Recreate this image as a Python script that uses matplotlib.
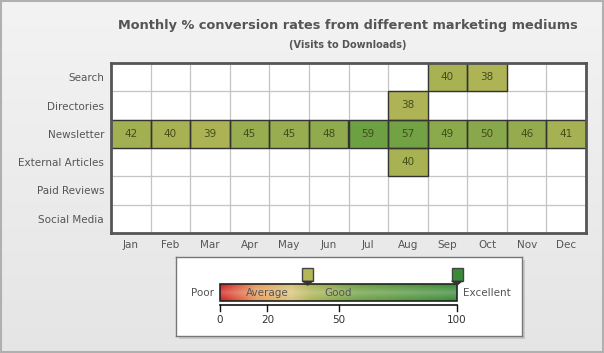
import numpy as np
import matplotlib
matplotlib.use("Agg")
import matplotlib.pyplot as plt
from matplotlib.colors import LinearSegmentedColormap, Normalize
from matplotlib.patches import Rectangle, Polygon

plt.rcParams['font.family'] = ['DejaVu Sans']

# ---------------- data ----------------
rows = ['Search', 'Directories', 'Newsletter', 'External Articles', 'Paid Reviews', 'Social Media']
months = ['Jan', 'Feb', 'Mar', 'Apr', 'May', 'Jun', 'Jul', 'Aug', 'Sep', 'Oct', 'Nov', 'Dec']
nan = np.nan
search = [nan, nan, nan, nan, nan, nan, nan, nan, 40, 38, nan, nan]
directories = [nan, nan, nan, nan, nan, nan, nan, 38, nan, nan, nan, nan]
newsletter = [42, 40, 39, 45, 45, 48, 59, 57, 49, 50, 46, 41]
external_articles = [nan, nan, nan, nan, nan, nan, nan, 40, nan, nan, nan, nan]
paid_reviews = [nan] * 12
social_media = [nan] * 12

scale_labels = ['Poor', 'Average', 'Good', 'Excellent']
scale_values = [0, 20, 50, 100]
scale_ticks = [0, 20, 50, 100]
slider_values = [37, 100]

title = 'Monthly % conversion rates from different marketing mediums'
subtitle = '(Visits to Downloads)'

# ---------------- style ----------------
W, H = 604, 353
cmap = LinearSegmentedColormap.from_list('conv', [
    (0.00, '#d21f1f'),
    (0.15, '#e89a5a'),
    (0.30, '#d8c47a'),
    (0.38, '#aeb455'),
    (0.59, '#6ca043'),
    (1.00, '#3a8a38'),
])
norm = Normalize(0, 100)
txt = '#555555'
fs = 7.5

fig = plt.figure(figsize=(W / 100, H / 100), dpi=100)

# background gradient
bg = fig.add_axes([0, 0, 1, 1], zorder=-10)
grad = np.linspace(0, 1, 256).reshape(-1, 1)
bg_cmap = LinearSegmentedColormap.from_list('bg', ['#f3f3f3', '#e5e5e5'])
bg.imshow(grad, aspect='auto', cmap=bg_cmap, extent=(0, 1, 0, 1), origin='upper')
bg.add_patch(Rectangle((0.001, 0.002), 0.997, 0.995, fill=False, edgecolor='#b0b0b0', lw=1.5, transform=bg.transAxes))
bg.set_xlim(0, 1); bg.set_ylim(0, 1)
bg.axis('off')

def px(x0, y0, x1, y1):
    return [x0 / W, 1 - y1 / H, (x1 - x0) / W, (y1 - y0) / H]

# ---------------- heatmap ----------------
ax = fig.add_axes(px(111, 63, 586, 233))
data = np.ma.masked_invalid(np.array([search, directories, newsletter, external_articles, paid_reviews, social_media], dtype=float))
ax.set_facecolor('white')
for i in range(1, len(months)):
    ax.axvline(i, color='#c4c4c4', lw=0.9, zorder=1)
for j in range(1, len(rows)):
    ax.axhline(j, color='#c4c4c4', lw=0.9, zorder=1)
ax.pcolormesh(np.arange(len(months) + 1), np.arange(len(rows) + 1), data, cmap=cmap, norm=norm,
              edgecolors='none', zorder=2)
for r in range(len(rows)):
    for c in range(len(months)):
        v = data[r, c]
        if v is not np.ma.masked:
            ax.add_patch(Rectangle((c, r), 1, 1, fill=False, edgecolor='#333333', lw=1.0, zorder=2.5))
            ax.text(c + 0.5, r + 0.5, f'{int(v)}', ha='center', va='center', fontsize=fs, color='#434d1c', zorder=3)
ax.set_xlim(0, len(months))
ax.set_ylim(len(rows), 0)
ax.set_xticks(np.arange(len(months)) + 0.5)
ax.set_xticklabels(months)
ax.set_yticks(np.arange(len(rows)) + 0.5)
ax.set_yticklabels(rows)
ax.tick_params(length=0, labelsize=fs, colors=txt, pad=5)
for s in ax.spines.values():
    s.set_color('#555555'); s.set_linewidth(2)
    s.set_zorder(4)

fig.text(348 / W, 1 - 25 / H, title, ha='center', va='center', fontsize=9.25, fontweight='bold', color=txt)
fig.text(348 / W, 1 - 45 / H, subtitle, ha='center', va='center', fontsize=7.0, fontweight='bold', color=txt)

# ---------------- legend ----------------
sh = fig.add_axes(px(179, 260, 525, 339), zorder=1)
sh.set_facecolor('#c8c8c8')
sh.set_xticks([]); sh.set_yticks([])
for s in sh.spines.values():
    s.set_visible(False)

lx0, lx1 = 176, 522
bx0, bx1 = 220, 457
k = (bx1 - bx0) / 100.0
lg = fig.add_axes(px(lx0, 257, lx1, 336), zorder=2)
lg.set_facecolor('white')
lg.set_xticks([]); lg.set_yticks([])
for s in lg.spines.values():
    s.set_color('#777777'); s.set_linewidth(1)

gx = np.linspace(0, 100, 400).reshape(1, -1)
lg.imshow(gx, aspect='auto', cmap=cmap, norm=norm, extent=(0, 100, 35, 52), zorder=2)
gl = np.concatenate([np.linspace(0.0, 0.25, 20), np.linspace(0.25, 0.0, 20)]).reshape(-1, 1)
gloss = np.zeros((40, 1, 4)); gloss[..., :3] = 1.0; gloss[..., 3] = gl
lg.imshow(gloss, aspect='auto', extent=(0, 100, 35, 52), zorder=3)
lg.add_patch(Rectangle((0, 35), 100, 17, fill=False, edgecolor='#222222', lw=1.2, zorder=4))
lg.set_xlim((lx0 - bx0) / k, (lx1 - bx0) / k)
lg.set_ylim(0, 79)

lg.text(-2.5, 43.5, scale_labels[0], ha='right', va='center', fontsize=fs, color=txt)
lg.text(102.5, 43.5, scale_labels[-1], ha='left', va='center', fontsize=fs, color=txt)
for lab, v in zip(scale_labels[1:-1], scale_values[1:-1]):
    lg.text(v, 43.5, lab, ha='center', va='center', fontsize=fs, color=txt, zorder=5)

lg.plot([0, 100], [31, 31], color='#111111', lw=1.2)
for t in scale_ticks:
    lg.plot([t, t], [31, 25], color='#111111', lw=1)
    lg.text(t, 16, str(t), ha='center', va='center', fontsize=fs, color='#333333')

hw = 5.5 / k
for v in slider_values:
    col = cmap(norm(v))
    lg.add_patch(Rectangle((v - hw, 55), 2 * hw, 13, facecolor=col, edgecolor='#444444', lw=1, zorder=5))
    lg.add_patch(Polygon([[v - hw, 55], [v + hw, 55], [v, 50.5]], closed=True, facecolor='#333333', edgecolor='#333333', lw=0.5, zorder=5))

fig.savefig('out.png', dpi=100)
